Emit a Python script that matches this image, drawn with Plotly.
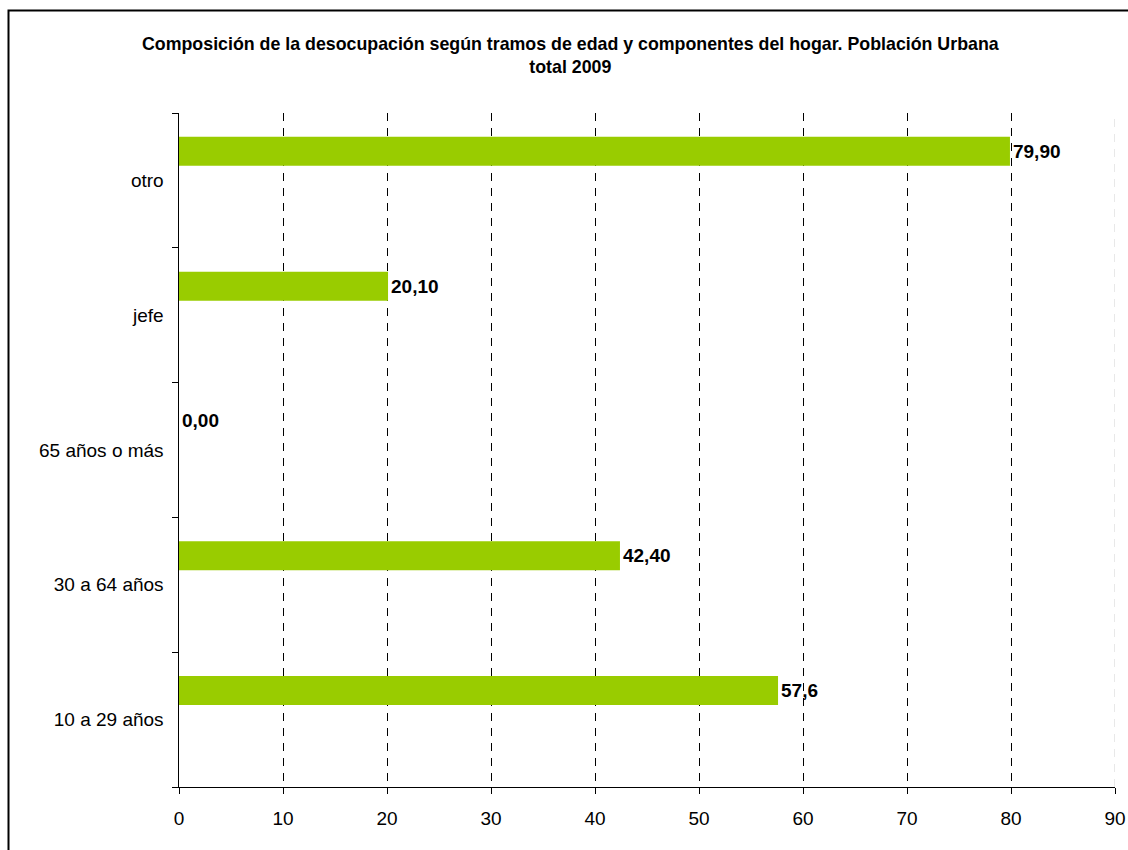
import plotly.graph_objects as go

categories = ["10 a 29 años", "30 a 64 años", "65 años o más", "jefe", "otro"]
values = [57.6, 42.4, 0.0, 20.1, 79.9]
labels = ["57,6", "42,40", "0,00", "20,10", "79,90"]
x_ticks = [0, 10, 20, 30, 40, 50, 60, 70, 80, 90]

FONT = "Liberation Sans, Arial, sans-serif"

W, H = 1128, 850
L, R, T, B = 179, 13, 113, 63
PW, PH = W - L - R, H - T - B

fig = go.Figure()
fig.add_trace(go.Bar(
    y=categories, x=values, orientation="h",
    marker=dict(color="#99CC00", line=dict(width=0)),
    width=0.215, offset=0.108,
    text=labels, textposition="outside", cliponaxis=False,
    textfont=dict(family=FONT, size=19, color="black", weight="bold"),
    hoverinfo="skip",
))

fig.update_layout(
    width=W, height=H, autosize=False,
    margin=dict(l=L, r=R, t=T, b=B, autoexpand=False),
    paper_bgcolor="white", plot_bgcolor="white",
    showlegend=False,
    font=dict(family=FONT, size=19, color="black"),
    annotations=[dict(
        text="<b>Composición de la desocupación según tramos de edad y componentes del hogar. Población Urbana<br>total 2009</b>",
        xref="paper", yref="paper", x=(570 - L) / PW, y=(H - B - 32) / PH,
        xanchor="center", yanchor="top",
        showarrow=False, font=dict(family=FONT, size=17.8, color="black"),
    )],
    shapes=[
        dict(
            type="rect", xref="paper", yref="paper",
            x0=(8.5 - L) / PW, x1=(W + 20 - L) / PW,
            y0=(H - B - (H + 20)) / PH, y1=(H - B - 10.5) / PH,
            line=dict(color="black", width=2), fillcolor="rgba(0,0,0,0)", layer="below",
        ),
        dict(
            type="line", xref="x", yref="paper",
            x0=x_ticks[-1], x1=x_ticks[-1], y0=0, y1=1,
            line=dict(color="#d0d0d0", width=1, dash="8px,7px"), layer="below",
        ),
    ],
)

fig.update_xaxes(
    range=[0, 90], tickvals=x_ticks, ticktext=[str(v) for v in x_ticks],
    showgrid=True, gridcolor="black", gridwidth=1, griddash="8px,7px",
    zeroline=False, showline=True, linecolor="black", linewidth=1,
    ticks="outside", ticklen=6, tickcolor="black", ticklabelstandoff=8,
    ticklabeloverflow="allow", automargin=False,
    tickfont=dict(family=FONT, size=19, color="black"),
)
fig.update_yaxes(
    type="category", categoryorder="array", categoryarray=categories,
    range=[-0.5, 4.5], automargin=False,
    showgrid=False, zeroline=False, showline=True, linecolor="black", linewidth=1,
    ticks="outside", tickson="boundaries", ticklen=6, tickcolor="black",
    ticksuffix="  ",
    tickfont=dict(family=FONT, size=19, color="black"),
)

fig.write_html(
    "out.html",
    config={"displayModeBar": False, "responsive": False},
    post_script="document.body.style.margin='0';document.body.style.overflow='hidden';",
)
